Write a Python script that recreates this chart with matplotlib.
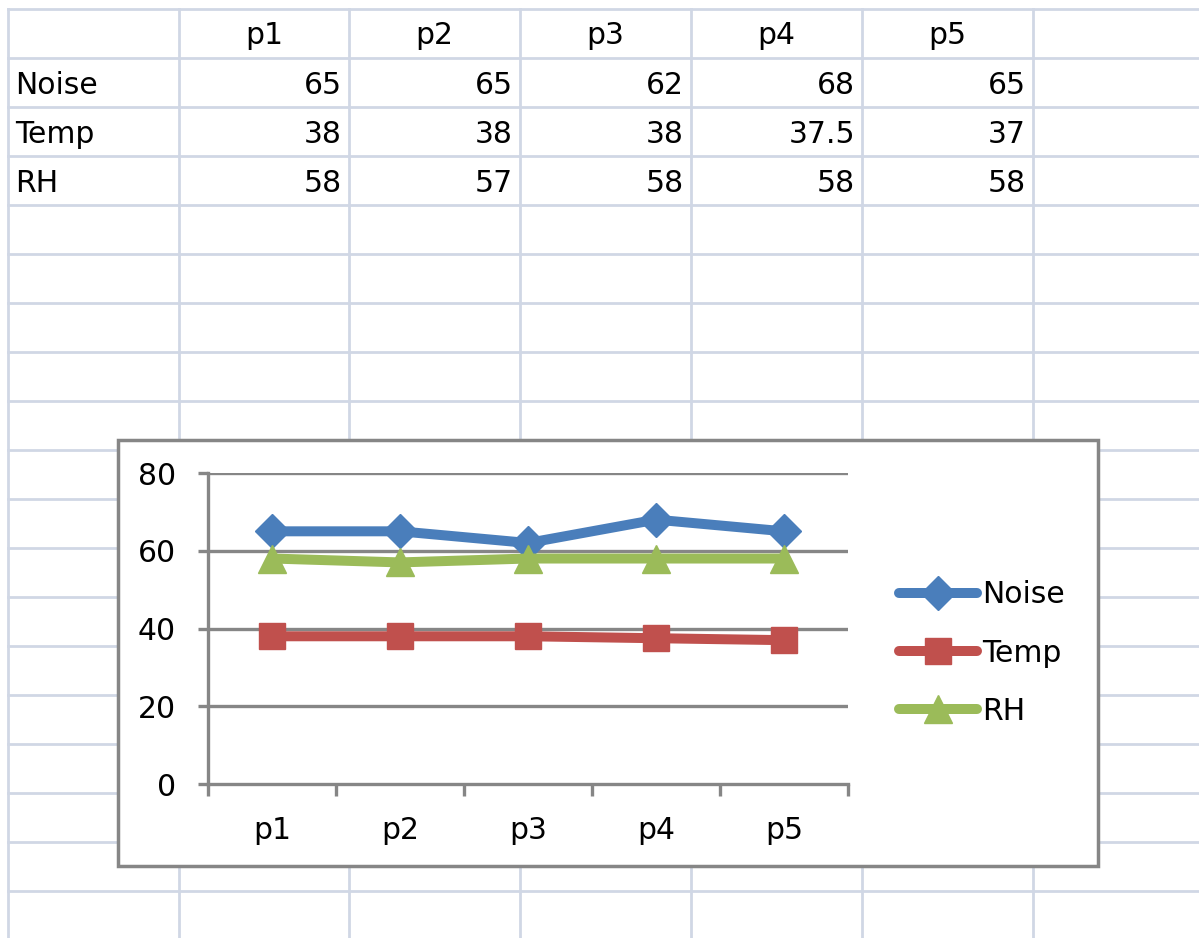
import numpy as np
import matplotlib
matplotlib.use("Agg")
import matplotlib.pyplot as plt
from matplotlib.patches import Rectangle

# data from the sheet
points = ["p1", "p2", "p3", "p4", "p5"]
series = ["Noise", "Temp", "RH"]
noise = [65, 65, 62, 68, 65]
temp = [38, 38, 38, 37.5, 37]
rh = [58, 57, 58, 58, 58]
yticks = [0, 20, 40, 60, 80]

colors = ["#4A7EBB", "#C0504D", "#9BBB59"]
markers = ["D", "s", "^"]
msizes = [17, 19, 20]
grid_col = "#D0D7E5"
axis_col = "#868686"

plt.rcParams["font.family"] = ["DejaVu Sans"]
FS = 21.5

W, H = 1199, 938
fig = plt.figure(figsize=(W / 100, H / 100), dpi=100)

# spreadsheet background, pixel coordinates
bg = fig.add_axes([0, 0, 1, 1])
bg.set_xlim(0, W)
bg.set_ylim(H, 0)
bg.axis("off")

col_x = [8, 179, 349, 520, 691, 862, 1033]
row_y = [9 + 49 * k for k in range(20)]
for x in col_x:
    bg.plot([x, x], [9, H], color=grid_col, lw=2.0, zorder=1)
for y in row_y:
    bg.plot([8, W], [y, y], color=grid_col, lw=2.0, zorder=1)

# table texts
for i, p in enumerate(points):
    cx = (col_x[i + 1] + col_x[i + 2]) / 2
    bg.text(cx, (row_y[0] + row_y[1]) / 2 + 2, p, ha="center", va="center",
            fontsize=FS, color="black")
table = [noise, temp, rh]
for r, (name, vals) in enumerate(zip(series, table)):
    yc = (row_y[r + 1] + row_y[r + 2]) / 2 + 3
    bg.text(15, yc, name, ha="left", va="center", fontsize=FS)
    for i, v in enumerate(vals):
        s = f"{v:g}"
        bg.text(col_x[i + 2] - 7, yc, s, ha="right", va="center", fontsize=FS)

# chart frame
bg.add_patch(Rectangle((118, 440), 1098 - 118, 866 - 440, facecolor="white",
                       edgecolor=axis_col, lw=2.5, zorder=5))

# chart plot area
x0, x1, ytop, ybot = 208, 848, 473, 784
ax = fig.add_axes([x0 / W, (H - ybot) / H, (x1 - x0) / W, (ybot - ytop) / H])
ax.set_zorder(10)
ax.patch.set_alpha(0)

xs = np.arange(len(points))
handles = []
for vals, c, m, ms, name in zip(table, colors, markers, msizes, series):
    h, = ax.plot(xs, vals, color=c, lw=7.2, marker=m, markersize=ms,
                 solid_joinstyle="round", solid_capstyle="round", label=name,
                 zorder=3, clip_on=False)
    handles.append(h)

ax.set_xlim(-0.5, len(points) - 0.5)
ax.set_ylim(0, 80)
ax.set_yticks(yticks)
ax.set_xticks(xs)
ax.set_xticklabels(points)
ax.set_xticks(np.arange(-0.5, len(points)), minor=True)
for yv in yticks[1:]:
    ax.axhline(yv, color=axis_col, lw=2.4, zorder=1)

for side in ["top", "right"]:
    ax.spines[side].set_visible(False)
for side in ["left", "bottom"]:
    ax.spines[side].set_color(axis_col)
    ax.spines[side].set_linewidth(2.4)
ax.tick_params(axis="y", direction="out", length=7.2, width=2.4, color=axis_col,
               labelsize=FS, pad=16)
ax.tick_params(axis="x", which="major", length=0, labelsize=FS, pad=23)
ax.tick_params(axis="x", which="minor", direction="out", length=8.5, width=2.4,
               color=axis_col)

fig.legend(handles=handles, labels=series, loc="center left",
           bbox_to_anchor=(899 / W, (H - 653) / H), frameon=False, fontsize=FS,
           handlelength=2.6, handletextpad=0.2, labelspacing=0.98,
           borderpad=0, borderaxespad=0)

fig.savefig("out.png", dpi=100)
